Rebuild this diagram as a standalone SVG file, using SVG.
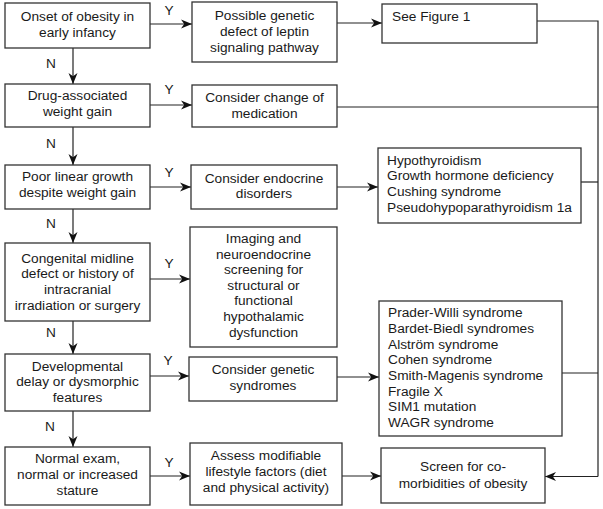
<svg xmlns="http://www.w3.org/2000/svg" width="603" height="509" viewBox="0 0 603 509">
<defs>
<marker id="ah" markerUnits="userSpaceOnUse" markerWidth="11" markerHeight="10" refX="11" refY="5" orient="auto">
<path d="M0,0.5 L11,5 L0,9.5 L3.2,5 z" fill="#111"/>
</marker>
<style>
rect{fill:#fff;stroke:#333;stroke-width:1.3}
text{font-family:"Liberation Sans",Arial,sans-serif;font-size:13.7px;fill:#1a1a1a}
.c{text-anchor:middle}
.ln{fill:none;stroke:#222;stroke-width:1.2}
.ar{fill:none;stroke:#222;stroke-width:1.2;marker-end:url(#ah)}
</style>
</defs>
<rect x="0" y="0" width="603" height="509" style="fill:#fff;stroke:none"/>

<g id="connectors">
<line class="ar" x1="73" y1="48" x2="73" y2="84"/>
<line class="ar" x1="73" y1="127" x2="73" y2="165"/>
<line class="ar" x1="73" y1="209" x2="73" y2="243"/>
<line class="ar" x1="73" y1="321" x2="73" y2="354"/>
<line class="ar" x1="73" y1="411" x2="73" y2="447"/>
<line class="ar" x1="150" y1="24" x2="192" y2="24"/>
<line class="ar" x1="150" y1="105" x2="192" y2="105"/>
<line class="ar" x1="150" y1="187" x2="191" y2="187"/>
<line class="ar" x1="150" y1="279" x2="190" y2="279"/>
<line class="ar" x1="150" y1="376" x2="189" y2="376"/>
<line class="ar" x1="150" y1="476" x2="190" y2="476"/>
<line class="ar" x1="337" y1="23" x2="382" y2="23"/>
<line class="ar" x1="337" y1="187" x2="378" y2="187"/>
<line class="ar" x1="337" y1="377" x2="379" y2="377"/>
<line class="ar" x1="342" y1="476" x2="381" y2="476"/>
<polyline class="ln" points="537,21 598,21 598,476.5"/>
<line class="ln" x1="337" y1="107" x2="598" y2="107"/>
<line class="ln" x1="581" y1="182" x2="598" y2="182"/>
<line class="ln" x1="562" y1="373" x2="598" y2="373"/>
<line class="ar" x1="598" y1="476.5" x2="545" y2="476.5"/>
<text class="c" x="169" y="15">Y</text>
<text class="c" x="169" y="94">Y</text>
<text class="c" x="169" y="176.7">Y</text>
<text class="c" x="169" y="268">Y</text>
<text class="c" x="168" y="365">Y</text>
<text class="c" x="169" y="467">Y</text>
<text class="c" x="51" y="68.3">N</text>
<text class="c" x="51" y="147.7">N</text>
<text class="c" x="51" y="228.3">N</text>
<text class="c" x="51" y="337">N</text>
<text class="c" x="50" y="431">N</text>
</g>

<g id="q1"><rect x="5" y="3" width="145" height="45"/>
<text class="c" x="77.5" y="20.7">Onset of obesity in</text>
<text class="c" x="77.5" y="36.7">early infancy</text></g>

<g id="q2"><rect x="5" y="84" width="145" height="43"/>
<text class="c" x="77.5" y="100.3">Drug-associated</text>
<text class="c" x="77.5" y="115.7">weight gain</text></g>

<g id="q3"><rect x="5" y="165" width="145" height="44"/>
<text class="c" x="77.5" y="180.7">Poor linear growth</text>
<text class="c" x="77.5" y="196.7">despite weight gain</text></g>

<g id="q4"><rect x="5" y="243" width="145" height="78"/>
<text class="c" x="77.5" y="262.7">Congenital midline</text>
<text class="c" x="77.5" y="278.3">defect or history of</text>
<text class="c" x="77.5" y="294">intracranial</text>
<text class="c" x="77.5" y="309.6">irradiation or surgery</text></g>

<g id="q5"><rect x="5" y="354" width="145" height="57"/>
<text class="c" x="77.5" y="370.7">Developmental</text>
<text class="c" x="77.5" y="386.2">delay or dysmorphic</text>
<text class="c" x="77.5" y="401.7">features</text></g>

<g id="q6"><rect x="5" y="447" width="145" height="58"/>
<text class="c" x="77.5" y="463">Normal exam,</text>
<text class="c" x="77.5" y="479">normal or increased</text>
<text class="c" x="77.5" y="495">stature</text></g>

<g id="a1"><rect x="192" y="2" width="145" height="60"/>
<text class="c" x="264.5" y="20">Possible genetic</text>
<text class="c" x="264.5" y="36">defect of leptin</text>
<text class="c" x="264.5" y="51.7">signaling pathway</text></g>

<g id="a2"><rect x="192" y="85" width="145" height="42"/>
<text class="c" x="264.5" y="102.3">Consider change of</text>
<text class="c" x="264.5" y="118.3">medication</text></g>

<g id="a3"><rect x="191" y="165" width="146" height="44"/>
<text class="c" x="264" y="183">Consider endocrine</text>
<text class="c" x="264" y="198.3">disorders</text></g>

<g id="a4"><rect x="190" y="227" width="147" height="120"/>
<text class="c" x="263.5" y="243">Imaging and</text>
<text class="c" x="263.5" y="258.6">neuroendocrine</text>
<text class="c" x="263.5" y="274.2">screening for</text>
<text class="c" x="263.5" y="289.8">structural or</text>
<text class="c" x="263.5" y="305.4">functional</text>
<text class="c" x="263.5" y="321">hypothalamic</text>
<text class="c" x="263.5" y="336.6">dysfunction</text></g>

<g id="a5"><rect x="189" y="357" width="148" height="44"/>
<text class="c" x="263" y="374">Consider genetic</text>
<text class="c" x="263" y="390">syndromes</text></g>

<g id="a6"><rect x="190" y="443" width="152" height="62"/>
<text class="c" x="266" y="460">Assess modifiable</text>
<text class="c" x="266" y="475.7">lifestyle factors (diet</text>
<text class="c" x="266" y="491.7">and physical activity)</text></g>

<g id="r1"><rect x="382" y="4" width="155" height="39"/>
<text x="392" y="20.7">See Figure 1</text></g>

<g id="r2"><rect x="378" y="148" width="203" height="75"/>
<text x="387" y="164.7">Hypothyroidism</text>
<text x="387" y="180.3">Growth hormone deficiency</text>
<text x="387" y="196">Cushing syndrome</text>
<text x="387" y="212">Pseudohypoparathyroidism 1a</text></g>

<g id="r3"><rect x="379" y="301" width="183" height="135"/>
<text x="388" y="317">Prader-Willi syndrome</text>
<text x="388" y="332.7">Bardet-Biedl syndromes</text>
<text x="388" y="348.5">Alström syndrome</text>
<text x="388" y="364.2">Cohen syndrome</text>
<text x="388" y="380">Smith-Magenis syndrome</text>
<text x="388" y="395.7">Fragile X</text>
<text x="388" y="411.4">SIM1 mutation</text>
<text x="388" y="427">WAGR syndrome</text></g>

<g id="r4"><rect x="381" y="448" width="164" height="55"/>
<text class="c" x="463" y="471">Screen for co-</text>
<text class="c" x="463" y="487.7">morbidities of obesity</text></g>
</svg>
